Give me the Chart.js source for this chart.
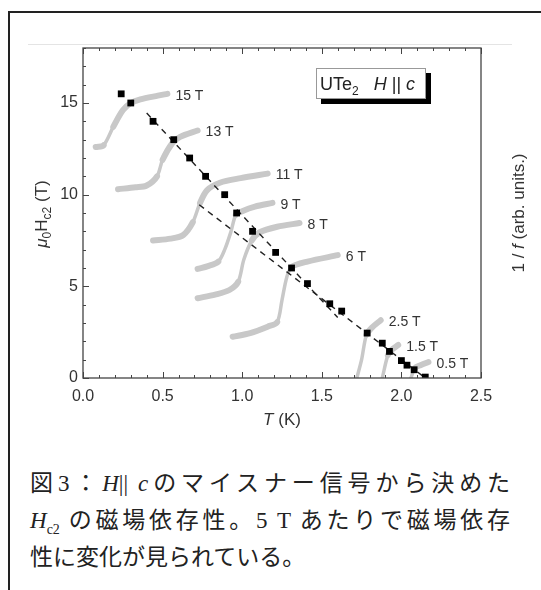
<!DOCTYPE html>
<html>
<head>
<meta charset="utf-8">
<script src="https://cdn.jsdelivr.net/npm/chart.js@4/dist/chart.umd.min.js"></script>
<style>
  body { margin: 0; width: 541px; height: 590px; position: relative; background: #fff; overflow: hidden; font-family: "Liberation Sans", Arial, sans-serif; color: #333; }
  .abs { position: absolute; }
  #frame { left: 8px; top: 11px; width: 700px; height: 700px; border-left: 2px solid #222; border-top: 2px solid #222; }
  #rule { left: 28px; top: 44px; width: 484px; height: 1px; background: #e4e4e4; }
  #wrap { left: 0; top: 0; width: 541px; height: 440px; }
  #inset { left: 316px; top: 68px; width: 110px; height: 31px; border: 1px solid #999; background: #fff; box-shadow: 5px 5px 0 #000; font-size: 18px; line-height: 31px; padding-left: 3px; box-sizing: border-box; white-space: nowrap; color: #222; }
  #inset sub { font-size: 12px; }
  .rot { transform-origin: center center; transform: rotate(-90deg); white-space: nowrap; text-align: center; }
  #ytitle { left: -57px; top: 203px; width: 200px; height: 22px; font-size: 17px; }
  #ytitle sub { font-size: 12px; }
  #rtitle { left: 420px; top: 202px; width: 200px; height: 22px; font-size: 17px; }
  #xtitle { left: 182px; top: 410px; width: 200px; text-align: center; font-size: 17px; }
  .cap { left: 30px; width: 480px; font-family: "Noto Sans CJK JP", sans-serif; font-size: 23px; line-height: 37px; color: #222; white-space: nowrap; }
  .just { text-align: justify; text-align-last: justify; }
  .ser { font-family: "Liberation Serif", "DejaVu Serif", serif; }
</style>
</head>
<body>
<div id="frame" class="abs"></div>
<div id="rule" class="abs"></div>
<div id="wrap" class="abs"><canvas id="hc2-chart"></canvas></div>
<div id="inset" class="abs">UTe<sub>2</sub>&nbsp;&nbsp;&nbsp;<i>H</i> || <i>c</i></div>
<div id="ytitle" class="abs rot"><i>μ</i><sub>0</sub>H<sub>c2</sub> (T)</div>
<div id="rtitle" class="abs rot">1 / <i>f</i> (arb. units.)</div>
<div id="xtitle" class="abs"><i>T</i> (K)</div>
<div class="abs cap just" style="top:463px">図<span class="ser">3</span>：<i class="ser">H</i><span class="ser">||</span> <i class="ser">c</i>のマイスナー信号から決めた</div>
<div class="abs cap just" style="top:500px"><i class="ser">H</i><sub class="ser" style="font-size:14px">c2</sub> の磁場依存性。<span class="ser">5 T</span> あたりで磁場依存</div>
<div class="abs cap" style="top:537px">性に変化が見られている。</div>

<script>
// tick values
const xTicks = [0, 0.5, 1.0, 1.5, 2.0, 2.5];
const yTicks = [0, 5, 10, 15];

// Hc2(T) points (black squares)
const hc2T = [0.24, 0.30, 0.44, 0.57, 0.67, 0.77, 0.89, 0.965, 1.065, 1.21, 1.31, 1.41, 1.55, 1.625, 1.785, 1.88, 1.925, 2.0, 2.035, 2.08, 2.15];
const hc2H = [15.5, 15.0, 14.0, 13.0, 12.0, 11.0, 10.0, 9.0, 8.0, 6.85, 6.0, 5.15, 4.05, 3.65, 2.45, 1.9, 1.45, 0.95, 0.7, 0.45, 0.05];

// dashed guide lines [T, H]
const fitHigh = [[0.40, 14.45], [1.60, 3.3]];
const fitLow = [[0.73, 9.45], [2.15, 0]];

// 1/f traces, drawn in the H-T frame [T, H]
const fieldNames = ['15 T', '13 T', '11 T', '9 T', '8 T', '6 T', '2.5 T', '1.5 T', '0.5 T'];
const trace15T = [[0.08, 12.6], [0.13, 12.7], [0.19, 13.7], [0.25, 14.6], [0.30, 15.0], [0.36, 15.2], [0.47, 15.4], [0.53, 15.5]];
const trace13T = [[0.22, 10.3], [0.33, 10.4], [0.40, 10.5], [0.465, 11.0], [0.50, 11.9], [0.56, 12.8], [0.61, 13.15], [0.72, 13.5]];
const trace11T = [[0.44, 7.5], [0.55, 7.6], [0.63, 7.8], [0.69, 8.5], [0.735, 9.55], [0.78, 10.25], [0.86, 10.65], [0.99, 10.9], [1.16, 11.15]];
const trace9T = [[0.72, 5.95], [0.785, 6.1], [0.85, 6.35], [0.89, 7.0], [0.93, 8.0], [0.96, 8.9], [1.0, 9.1], [1.08, 9.35], [1.19, 9.55]];
const trace8T = [[0.72, 4.35], [0.83, 4.55], [0.92, 4.8], [0.975, 5.25], [1.01, 6.45], [1.06, 7.5], [1.11, 7.95], [1.22, 8.25], [1.36, 8.45]];
const trace6T = [[0.94, 2.25], [1.05, 2.45], [1.16, 2.8], [1.22, 3.05], [1.25, 4.25], [1.28, 5.5], [1.31, 6.05], [1.41, 6.35], [1.6, 6.7]];
const trace2p5T = [[1.72, 0], [1.75, 1.0], [1.78, 2.35], [1.815, 2.75], [1.87, 3.15]];
const trace1p5T = [[1.88, 0], [1.915, 1.25], [1.94, 1.55], [1.98, 1.8]];
const trace0p5T = [[2.06, 0], [2.085, 0.55], [2.12, 0.7], [2.17, 0.87]];
const traces = [trace15T, trace13T, trace11T, trace9T, trace8T, trace6T, trace2p5T, trace1p5T, trace0p5T];

function toPoints(pairs) {
  return pairs.map(p => ({x: p[0], y: p[1]}));
}

// noisy flat parts look wider than the steep jumps
function segWidth(ctx) {
  const dx = Math.abs(ctx.p1.x - ctx.p0.x);
  const dy = Math.abs(ctx.p1.y - ctx.p0.y);
  return dy > 1.8 * dx ? 3.5 : 6;
}

// frame and inward ticks, drawn through the chart scales
const frameTicks = {
  id: 'frameTicks',
  afterDraw(chart) {
    const {ctx, chartArea: a, scales: {x, y}} = chart;
    ctx.save();
    ctx.strokeStyle = '#444';
    ctx.lineWidth = 1.3;
    ctx.strokeRect(a.left, a.top, a.right - a.left, a.bottom - a.top);
    ctx.lineWidth = 1;
    ctx.beginPath();
    for (let i = 0; i <= 25; i++) {
      const px = Math.round(x.getPixelForValue(i / 10)) + 0.5;
      const len = i % 5 === 0 ? 6 : 3;
      ctx.moveTo(px, a.bottom); ctx.lineTo(px, a.bottom - len);
      ctx.moveTo(px, a.top); ctx.lineTo(px, a.top + len);
    }
    for (let v = 0; v <= 18; v++) {
      const py = Math.round(y.getPixelForValue(v)) + 0.5;
      const len = v % 5 === 0 ? 6 : 3;
      ctx.moveTo(a.left, py); ctx.lineTo(a.left + len, py);
    }
    ctx.stroke();

    // field labels next to the end of each trace
    ctx.fillStyle = '#333';
    ctx.font = '14px "Liberation Sans", Arial, sans-serif';
    ctx.textBaseline = 'middle';
    chart.data.datasets.forEach((ds, i) => {
      if (!ds.fieldLabel) return;
      const pts = chart.getDatasetMeta(i).data;
      const last = pts[pts.length - 1];
      ctx.fillText(ds.fieldLabel, last.x + 8, last.y + 2);
    });
    ctx.restore();
  }
};

document.addEventListener("DOMContentLoaded", function () {
  const squares = hc2T.map((t, i) => ({x: t, y: hc2H[i]}));

  const datasets = [
    {
      data: squares,
      showLine: false,
      pointStyle: 'rect',
      pointRadius: 4.8,
      pointBackgroundColor: '#000',
      pointBorderColor: '#000',
      pointBorderWidth: 0
    },
    {
      data: toPoints(fitHigh),
      showLine: true,
      borderColor: '#222',
      borderWidth: 1.4,
      borderDash: [6, 5],
      pointRadius: 0
    },
    {
      data: toPoints(fitLow),
      showLine: true,
      borderColor: '#222',
      borderWidth: 1.4,
      borderDash: [6, 5],
      pointRadius: 0
    }
  ];

  traces.forEach((tr, i) => {
    datasets.push({
      data: toPoints(tr),
      fieldLabel: fieldNames[i],
      showLine: true,
      borderColor: '#c8c8c8',
      borderWidth: 5,
      borderCapStyle: 'round',
      borderJoinStyle: 'round',
      segment: {borderWidth: segWidth},
      tension: 0.3,
      pointRadius: 0
    });
  });

  new Chart(document.getElementById('hc2-chart'), {
    type: 'scatter',
    data: {datasets: datasets},
    options: {
      responsive: true,
      maintainAspectRatio: false,
      animation: false,
      layout: {padding: {left: 0, right: 60, top: 48, bottom: 0}},
      plugins: {legend: {display: false}, tooltip: {enabled: false}},
      scales: {
        x: {
          type: 'linear',
          min: 0,
          max: 2.5,
          afterBuildTicks: s => { s.ticks = xTicks.map(v => ({value: v})); },
          afterFit: s => { s.height = 62; },
          grid: {display: false, drawTicks: false},
          border: {display: false},
          ticks: {
            padding: 9,
            color: '#333',
            font: {size: 16, family: '"Liberation Sans", Arial, sans-serif'},
            callback: v => v.toFixed(1),
            maxRotation: 0
          }
        },
        y: {
          type: 'linear',
          min: 0,
          max: 18,
          afterBuildTicks: s => { s.ticks = yTicks.map(v => ({value: v})); },
          afterFit: s => { s.width = 83; },
          grid: {display: false, drawTicks: false},
          border: {display: false},
          ticks: {
            padding: 5,
            color: '#333',
            font: {size: 16, family: '"Liberation Sans", Arial, sans-serif'}
          }
        }
      }
    },
    plugins: [frameTicks]
  });
});
</script>
</body>
</html>
